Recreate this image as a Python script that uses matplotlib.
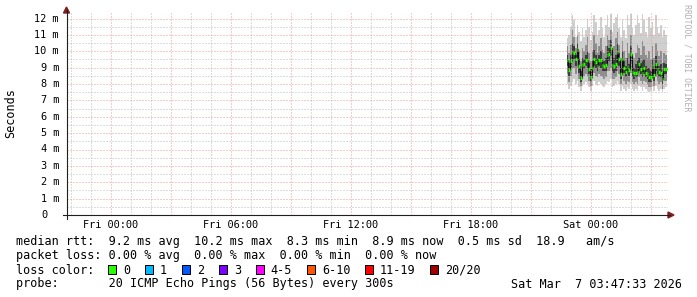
import numpy as np
import matplotlib
matplotlib.use('Agg')
import matplotlib.pyplot as plt
from matplotlib.lines import Line2D
from matplotlib.patches import Rectangle, Polygon
from matplotlib.ticker import MultipleLocator

# Picture size in pixels
W, H = 697, 297

# Samples: hours since Fri 00:00, one every 5 minutes
start_hour = 22.8
step_hour = 5 / 60.0

# Median rtt per sample (ms)
med = [9.45, 8.85, 9.40, 9.95, 9.90, 9.50, 10.15, 9.10, 8.35, 9.15,
       9.20, 9.45, 9.45, 8.90, 8.45, 9.00, 9.55, 9.35, 9.10, 9.45,
       9.45, 9.15, 9.10, 9.15, 9.80, 9.85, 10.20, 9.15, 9.10, 9.20,
       9.95, 9.50, 8.60, 9.50, 9.00, 8.75, 9.05, 8.85, 9.85, 8.75,
       8.65, 8.70, 8.75, 9.20, 8.90, 8.70, 8.95, 8.70, 8.60, 8.45,
       8.40, 9.10, 8.55, 9.20, 8.90, 8.75, 8.70, 8.30, 8.90, 8.90]

# Smoke: spread of the 20 pings per sample (ms)
ping_max = [10.8, 11.0, 11.5, 12.2, 11.9, 10.9, 11.6, 11.2, 10.6, 11.4,
            10.9, 11.3, 12.0, 11.5, 10.7, 11.2, 12.2, 11.8, 11.0, 11.3,
            12.1, 11.4, 10.9, 11.6, 12.2, 11.5, 12.3, 11.2, 11.7, 12.1,
            12.3, 11.4, 10.9, 11.9, 11.3, 10.8, 12.2, 11.6, 12.3, 11.4,
            11.0, 11.6, 12.2, 11.7, 11.1, 12.3, 11.9, 11.2, 10.9, 12.1,
            11.4, 11.8, 11.0, 12.2, 11.5, 11.1, 11.6, 10.9, 11.3, 11.0]
ping_p90 = [10.3, 9.9, 10.4, 11.3, 10.9, 10.2, 11.0, 10.0, 9.4, 10.2,
            10.0, 10.4, 10.9, 9.9, 9.4, 10.0, 11.0, 10.5, 9.9, 10.3,
            10.8, 10.1, 9.9, 10.3, 11.0, 10.7, 11.3, 10.1, 10.3, 10.8,
            11.2, 10.4, 9.6, 10.6, 10.0, 9.6, 10.5, 9.9, 11.0, 9.8,
            9.6, 9.9, 10.4, 10.2, 9.8, 10.6, 10.3, 9.8, 9.6, 10.0,
            9.5, 10.3, 9.6, 10.5, 10.0, 9.7, 10.0, 9.3, 9.9, 9.8]
ping_p75 = [9.8, 9.3, 9.8, 10.5, 10.3, 9.8, 10.5, 9.5, 8.8, 9.6,
            9.5, 9.8, 10.0, 9.3, 8.9, 9.4, 10.1, 9.8, 9.5, 9.8,
            10.0, 9.5, 9.4, 9.6, 10.3, 10.2, 10.7, 9.5, 9.6, 9.8,
            10.5, 9.9, 9.0, 10.0, 9.4, 9.1, 9.6, 9.2, 10.3, 9.2,
            9.0, 9.2, 9.4, 9.6, 9.3, 9.4, 9.5, 9.1, 9.0, 9.0,
            8.8, 9.5, 8.9, 9.7, 9.3, 9.1, 9.2, 8.7, 9.3, 9.2]
ping_p25 = [9.1, 8.5, 9.0, 9.5, 9.5, 9.1, 9.6, 8.7, 8.1, 8.8,
            8.9, 9.1, 9.0, 8.6, 8.2, 8.7, 9.1, 9.0, 8.8, 9.1,
            9.0, 8.8, 8.8, 8.8, 9.4, 9.4, 9.7, 8.8, 8.7, 8.8,
            9.4, 9.1, 8.3, 9.0, 8.7, 8.4, 8.6, 8.5, 9.3, 8.4,
            8.3, 8.4, 8.4, 8.8, 8.6, 8.4, 8.6, 8.4, 8.3, 8.1,
            8.1, 8.7, 8.2, 8.8, 8.6, 8.4, 8.4, 8.0, 8.6, 8.6]
ping_p10 = [8.6, 8.1, 8.5, 8.9, 9.0, 8.6, 9.0, 8.3, 7.9, 8.4,
            8.5, 8.6, 8.5, 8.2, 7.9, 8.3, 8.7, 8.5, 8.4, 8.6,
            8.5, 8.4, 8.3, 8.4, 8.8, 8.8, 9.0, 8.3, 8.3, 8.4,
            8.8, 8.6, 8.0, 8.5, 8.2, 8.0, 8.2, 8.1, 8.7, 8.1,
            8.0, 8.1, 8.0, 8.4, 8.2, 8.0, 8.2, 8.1, 8.0, 7.8,
            7.8, 8.3, 7.9, 8.4, 8.2, 8.0, 8.1, 7.7, 8.2, 8.2]
ping_min = [8.0, 7.7, 7.9, 8.1, 8.3, 8.0, 8.2, 7.8, 7.6, 7.9,
            8.0, 8.1, 8.0, 7.8, 7.6, 7.9, 8.2, 8.0, 7.9, 8.1,
            8.0, 7.9, 7.8, 8.0, 8.2, 8.1, 8.3, 7.8, 7.9, 8.0,
            8.2, 8.0, 7.6, 7.9, 7.7, 7.6, 7.8, 7.7, 8.0, 7.7,
            7.6, 7.7, 7.6, 7.9, 7.8, 7.6, 7.8, 7.7, 7.6, 7.5,
            7.6, 7.8, 7.6, 7.9, 7.7, 7.6, 7.7, 7.5, 7.7, 7.8]

# Axis labels
x_tick_hours = [0, 6, 12, 18, 24]
x_tick_labels = ['Fri 00:00', 'Fri 06:00', 'Fri 12:00', 'Fri 18:00', 'Sat 00:00']
y_tick_values = list(range(13))
y_tick_labels = ['0'] + ['%d m' % v for v in range(1, 13)]

# Legend
loss_labels = ['0', '1', '2', '3', '4-5', '6-10', '11-19', '20/20']
loss_colors = ['#26ff00', '#00b8ff', '#0059ff', '#7e00ff',
               '#ff00ff', '#ff5500', '#ff0000', '#a10000']
rtt_line = 'median rtt:  9.2 ms avg  10.2 ms max  8.3 ms min  8.9 ms now  0.5 ms sd  18.9   am/s'
loss_line = 'packet loss: 0.00 % avg  0.00 % max  0.00 % min  0.00 % now'
probe_line = 'probe:       20 ICMP Echo Pings (56 Bytes) every 300s'
date_text = 'Sat Mar  7 03:47:33 2026'

MONO = 'DejaVu Sans Mono'
GRID = '#bdbdbd'
MGRID = '#e99a9a'
ARROW = '#801f1f'


# pixel -> figure fraction
def fx(x):
    return x / W


def fy(y):
    return 1 - y / H


fig = plt.figure(figsize=(W / 100, H / 100), dpi=100, facecolor='white')

# Plot area in pixels
left, right, top, bottom = 66.5, 667.5, 12, 215
px_per_ms = 16.375
ax = fig.add_axes([fx(left), fy(bottom), (right - left) / W, (bottom - top) / H])
ax.set_xlim(-2.2, -2.2 + (right - left) / 20.0)
ax.set_ylim(0, (bottom - top) / px_per_ms)
for s in ax.spines.values():
    s.set_visible(False)

# Smoke and median
edges = start_hour + step_hour * np.arange(len(med) + 1)
ax.stairs(ping_max, edges, baseline=ping_min, fill=True, color='#cfcfcf', lw=0, zorder=1)
ax.stairs(ping_p90, edges, baseline=ping_p10, fill=True, color='#8e8e8e', lw=0, zorder=1.1)
ax.stairs(ping_p75, edges, baseline=ping_p25, fill=True, color='#3c3c3c', lw=0, zorder=1.2)
ax.stairs(med, edges, baseline=None, color='#101010', lw=0.8, zorder=2)
green = ax.hlines(med, edges[:-1], edges[1:], colors=loss_colors[0], lw=2.4, zorder=3)
green.set_capstyle('butt')

# Grid
ax.xaxis.set_major_locator(MultipleLocator(3))
ax.xaxis.set_minor_locator(MultipleLocator(1))
ax.yaxis.set_major_locator(MultipleLocator(1))
ax.yaxis.set_minor_locator(MultipleLocator(0.5))
ax.tick_params(which='both', length=0, labelbottom=False, labelleft=False)
ax.set_axisbelow(False)
ax.grid(which='minor', color=GRID, ls=(0, (1, 2)), lw=0.72)
ax.grid(which='major', color=MGRID, ls=(0, (1, 2)), lw=0.72)

# Tick labels
for h, lab in zip(x_tick_hours, x_tick_labels):
    ax.text(h, (bottom - 224.5) / (bottom - top), lab, transform=ax.get_xaxis_transform(),
            ha='center', va='center', fontsize=7.4, family=MONO)
for v, lab in zip(y_tick_values, y_tick_labels):
    xr = 59 if lab.endswith('m') else 47.5
    ax.text((xr - left) / (right - left), v, lab, transform=ax.get_yaxis_transform(),
            ha='right', va='center', fontsize=7.4, family=MONO)

# Axes with arrows
fig.add_artist(Line2D([fx(62.5), fx(670)], [fy(bottom), fy(bottom)], color='#1f1f1f', lw=0.8))
fig.add_artist(Line2D([fx(left), fx(left)], [fy(219), fy(10)], color='#1f1f1f', lw=0.8))
fig.add_artist(Polygon([(fx(left), fy(7)), (fx(left - 3), fy(13)), (fx(left + 3), fy(13))],
                       closed=True, color=ARROW, transform=fig.transFigure))
fig.add_artist(Polygon([(fx(674), fy(bottom)), (fx(668), fy(bottom - 3)), (fx(668), fy(bottom + 3))],
                       closed=True, color=ARROW, transform=fig.transFigure))

# Unit label and watermark
fig.text(fx(11), fy(113.5), 'Seconds', rotation=90, ha='center', va='center',
         fontsize=8.5, family=MONO)
fig.text(fx(687), fy(4), 'RRDTOOL / TOBI OETIKER', rotation=-90, ha='center', va='top',
         fontsize=5.85, family=MONO, color='#b0b0b0')

# Legend lines
base = 245.5
fig.text(fx(16), fy(base), rtt_line, va='baseline', fontsize=8.5, family=MONO)
fig.text(fx(16), fy(base + 14), loss_line, va='baseline', fontsize=8.5, family=MONO)
fig.text(fx(16), fy(base + 28), 'loss color:', va='baseline', fontsize=8.5, family=MONO)
fig.text(fx(16), fy(base + 42), probe_line, va='baseline', fontsize=8.5, family=MONO)
fig.text(fx(682), fy(base + 42), date_text, va='baseline', ha='right', fontsize=8.5, family=MONO)

char_w = 7.1
bx = 108
for lab, col in zip(loss_labels, loss_colors):
    fig.add_artist(Rectangle((fx(bx), fy(273.5)), 8 / W, 9 / H, facecolor=col,
                             edgecolor='black', lw=0.72, transform=fig.transFigure))
    fig.text(fx(bx + 15), fy(base + 28), lab, va='baseline', fontsize=8.5, family=MONO)
    bx += (len(lab) + 4.2) * char_w

fig.savefig('out.png', dpi=100, facecolor='white')
